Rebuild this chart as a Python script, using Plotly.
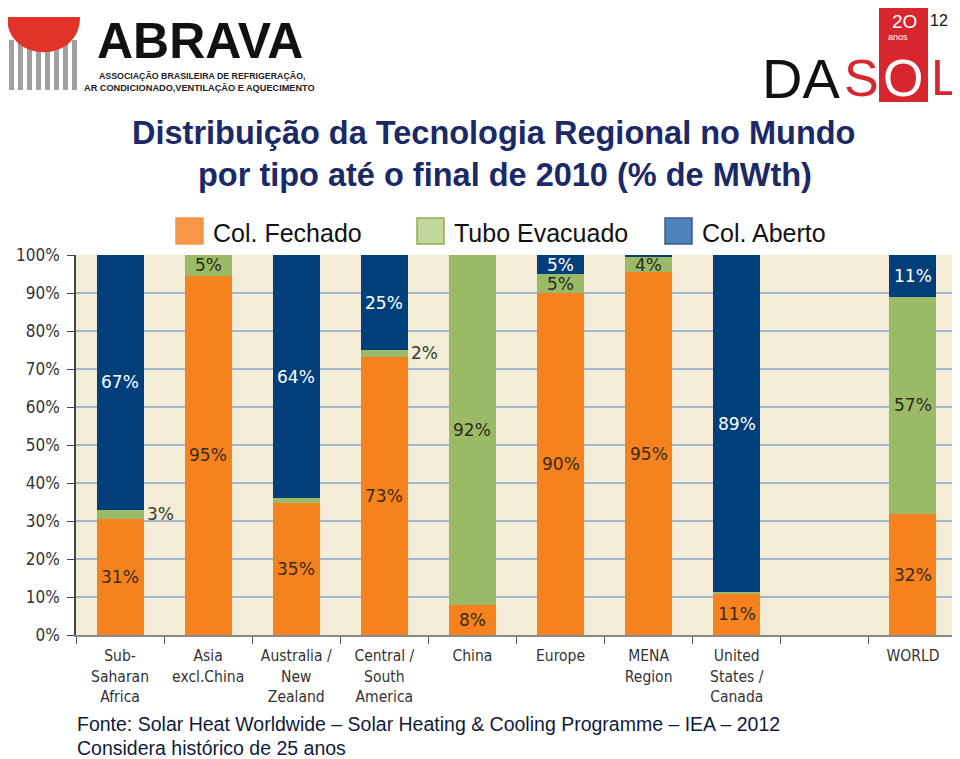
import plotly.graph_objects as go

categories = ["Sub-<br>Saharan<br>Africa", "Asia<br>excl.China", "Australia /<br>New<br>Zealand",
              "Central /<br>South<br>America", "China", "Europe", "MENA<br>Region",
              "United<br>States /<br>Canada", " ", "WORLD"]
fechado = [30.5, 94.5, 34.8, 73.2, 7.9, 90, 95.5, 11, 0, 31.8]
tubo = [2.5, 5.5, 1.2, 1.8, 92.1, 5, 4, 0.3, 0, 57.2]
aberto = [67, 0, 64, 25, 0, 5, 0.5, 88.7, 0, 11]
lbl_fechado = ["31%", "95%", "35%", "73%", "8%", "90%", "95%", "11%", "", "32%"]
lbl_tubo = ["3%", "5%", "", "2%", "92%", "5%", "4%", "", "", "57%"]
lbl_aberto = ["67%", "", "64%", "25%", "", "5%", "", "89%", "", "11%"]
outside_tubo = [True, False, False, True, False, False, False, False, False, False]
y_ticks = [0, 10, 20, 30, 40, 50, 60, 70, 80, 90, 100]
y_tick_text = ["0%", "10%", "20%", "30%", "40%", "50%", "60%", "70%", "80%", "90%", "100%"]

ORANGE = "#F5821F"
GREEN = "#9BBA68"
BLUE = "#003F7A"
NAVY = "#1B2A66"
LABEL_FONT = "DejaVu Sans Condensed, Verdana, DejaVu Sans, sans-serif"
ARIAL = "Liberation Sans, Arial, sans-serif"

# page body has an 8px margin: work in page pixels and offset
OFF = 8
W, H = 960 - OFF, 759 - OFF
PL, PR, PT, PB = 76, 957, 255, 635  # plot area in page pixels

fig = go.Figure()
for name, vals, col in [("Col. Fechado", fechado, ORANGE), ("Tubo Evacuado", tubo, GREEN),
                        ("Col. Aberto", aberto, BLUE)]:
    fig.add_trace(go.Bar(x=categories, y=vals, name=name, marker=dict(color=col, line=dict(width=0)),
                         showlegend=False, hoverinfo="skip"))


def px(x):
    return (x - PL) / (PR - PL)


def py(y):
    return (PB - y) / (PB - PT)


ann = []
for i, c in enumerate(categories):
    segs = [(fechado[i], lbl_fechado[i], "#3A2A1A", False),
            (tubo[i], lbl_tubo[i], "#2B2B1B", outside_tubo[i]),
            (aberto[i], lbl_aberto[i], "white", False)]
    base = 0
    for h, t, col, out in segs:
        if t:
            ann.append(dict(x=c, y=base + h / 2, xref="x", yref="y", text=t, showarrow=False,
                            xshift=40 if out else 0,
                            font=dict(family="Verdana, DejaVu Sans, sans-serif", size=17,
                                      color="#3A3A2A" if out else col)))
        base += h

fig.update_layout(
    width=W, height=H,
    margin=dict(l=PL - OFF, r=W - (PR - OFF), t=PT - OFF, b=H - (PB - OFF)),
    paper_bgcolor="white", plot_bgcolor="#F3EDD8",
    barmode="stack", bargap=0.466,
    showlegend=False,
    xaxis=dict(tickson="boundaries", ticks="outside", ticklen=7, tickcolor="#555",
               showline=True, linecolor="#888", linewidth=1.5, ticklabelstandoff=6,
               tickfont=dict(family=LABEL_FONT, size=15.5, color="#333"), showgrid=False,
               fixedrange=True),
    yaxis=dict(range=[0, 100], tickvals=y_ticks, ticktext=y_tick_text, ticks="outside",
               ticklen=7, tickcolor="#444", showline=True, linecolor="#444", linewidth=1.5,
               gridcolor="#A2B5CA", gridwidth=1.5, ticklabelstandoff=4,
               tickfont=dict(family=LABEL_FONT, size=17, color="#333"), zeroline=False),
    font=dict(family=ARIAL),
)

# Title
title_lines = [("Distribuição da Tecnologia Regional no Mundo", 493, 133),
               ("por tipo até o final de 2010 (% de MWth)", 505, 175)]
for t, x, y in title_lines:
    ann.append(dict(x=px(x), y=py(y), xref="paper", yref="paper", text="<b>%s</b>" % t,
                    showarrow=False, xanchor="center", yanchor="middle",
                    font=dict(family=ARIAL, size=32.5, color=NAVY)))

shapes = []
# Legend
legend_items = [("Col. Fechado", "#F79646", "#F79646", 176), ("Tubo Evacuado", "#C3D69B", "#8FB050", 417),
                ("Col. Aberto", "#4F81BD", "#385D8A", 665)]
for name, fill, line, x0 in legend_items:
    shapes.append(dict(type="rect", xref="paper", yref="paper", x0=px(x0), x1=px(x0 + 27),
                       y0=py(244), y1=py(218), fillcolor=fill, line=dict(color=line, width=1.5)))
    ann.append(dict(x=px(x0 + 35), y=py(233), xref="paper", yref="paper", text=name, showarrow=False,
                    xanchor="left", yanchor="middle",
                    font=dict(family=ARIAL, size=25, color="#111")))

# Footer
for t, y in [("Fonte: Solar Heat Worldwide – Solar Heating & Cooling Programme – IEA – 2012", 724),
             ("Considera histórico de 25 anos", 748)]:
    ann.append(dict(x=px(75), y=py(y), xref="paper", yref="paper", text=t, showarrow=False,
                    xanchor="left", yanchor="middle",
                    font=dict(family=ARIAL, size=19.5, color="#111A3A")))

# ABRAVA logo
for k in range(8):
    xx = 9 + k * 9
    shapes.append(dict(type="rect", xref="paper", yref="paper", x0=px(xx), x1=px(xx + 5),
                       y0=py(90), y1=py(40), fillcolor="#A0A0A0", line=dict(width=0)))
shapes.append(dict(type="path", xref="paper", yref="paper",
                   path="M %f,%f L %f,%f C %f,%f %f,%f %f,%f Z" % (px(7), py(17), px(80), py(17),
                                                                   px(80), py(64), px(7), py(64),
                                                                   px(7), py(17)),
                   fillcolor="#E0332A", line=dict(width=0)))
ann.append(dict(x=px(95), y=py(41), xref="paper", yref="paper", text="<b>ABRAVA</b>", showarrow=False,
                xanchor="left", yanchor="middle",
                font=dict(family=ARIAL, size=50, color="#111")))
ann.append(dict(x=px(97), y=py(76), xref="paper", yref="paper", text="<b>ASSOCIAÇÃO BRASILEIRA DE REFRIGERAÇÃO,</b>",
                showarrow=False, xanchor="left", yanchor="middle",
                font=dict(family=ARIAL, size=8.8, color="#222")))
ann.append(dict(x=px(82), y=py(88), xref="paper", yref="paper", text="<b>AR CONDICIONADO,VENTILAÇÃO E AQUECIMENTO</b>",
                showarrow=False, xanchor="left", yanchor="middle",
                font=dict(family=ARIAL, size=9.2, color="#222")))

# DASOL logo
shapes.append(dict(type="rect", xref="paper", yref="paper", x0=px(879), x1=px(928), y0=py(102), y1=py(8),
                   fillcolor="#D8262E", line=dict(width=0)))
ann.append(dict(x=px(760), y=py(78), xref="paper", yref="paper", text="DA", showarrow=False,
                xanchor="left", yanchor="middle",
                font=dict(family=ARIAL, size=56, color="#111")))
ann.append(dict(x=px(842), y=py(78), xref="paper", yref="paper", text="S", showarrow=False,
                xanchor="left", yanchor="middle",
                font=dict(family=ARIAL, size=52, color="#D8262E")))
ann.append(dict(x=px(903), y=py(78), xref="paper", yref="paper", text="O", showarrow=False,
                xanchor="center", yanchor="middle",
                font=dict(family=ARIAL, size=52, color="white")))
ann.append(dict(x=px(929), y=py(78), xref="paper", yref="paper", text="L", showarrow=False,
                xanchor="left", yanchor="middle",
                font=dict(family=ARIAL, size=50, color="#D8262E")))
ann.append(dict(x=px(904), y=py(21), xref="paper", yref="paper", text="2O", showarrow=False,
                xanchor="center", yanchor="middle",
                font=dict(family=ARIAL, size=19, color="white")))
ann.append(dict(x=px(928), y=py(20), xref="paper", yref="paper", text="12", showarrow=False,
                xanchor="left", yanchor="middle",
                font=dict(family=ARIAL, size=16, color="#111")))
ann.append(dict(x=px(898), y=py(37), xref="paper", yref="paper", text="anos", showarrow=False,
                xanchor="center", yanchor="middle",
                font=dict(family=ARIAL, size=9, color="white")))

fig.update_layout(annotations=ann, shapes=shapes)
fig.write_html("out.html")
